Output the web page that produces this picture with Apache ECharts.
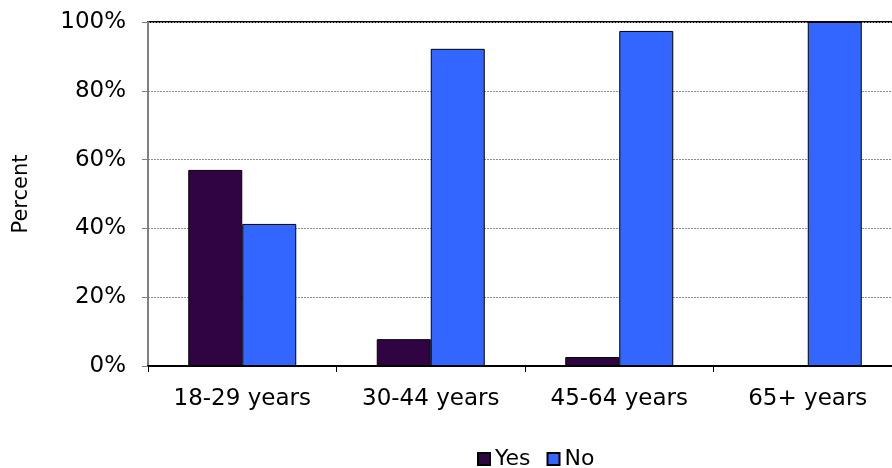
<!DOCTYPE html>
<html>
<head>
<meta charset="utf-8">
<script src="https://cdn.jsdelivr.net/npm/echarts@6/dist/echarts.min.js"></script>
<style>
  html, body { margin: 0; padding: 0; background: #fff; }
  #chart { width: 892px; height: 468px; }
</style>
</head>
<body>
<div id="chart"></div>
<script>
// Share answering Yes / No by age group (percent)
const categories = ['18-29 years', '30-44 years', '45-64 years', '65+ years'];
const yesValues = [57.0, 7.8, 2.6, 0];
const noValues = [41.3, 92.2, 97.4, 100];
const seriesNames = ['Yes', 'No'];

const font = 'Verdana, "DejaVu Sans", sans-serif';

const chart = echarts.init(document.getElementById('chart'), null, { renderer: 'canvas' });

chart.setOption({
  animation: false,
  backgroundColor: '#ffffff',
  textStyle: { fontFamily: font },
  grid: {
    left: 148,
    top: 22,
    width: 754,
    height: 344,
    outerBoundsMode: 'none',
    containLabel: false,
    show: true,
    borderColor: '#000000',
    borderWidth: 2,
    backgroundColor: 'transparent'
  },
  legend: {
    data: seriesNames,
    left: 472,
    top: 443,
    itemWidth: 12,
    itemHeight: 12,
    itemGap: 16,
    icon: 'rect',
    textStyle: { fontFamily: font, fontSize: 22, color: '#000', padding: [0, 0, 0, 0] }
  },
  xAxis: {
    type: 'category',
    data: categories,
    axisLine: { show: true, lineStyle: { color: '#000', width: 2 } },
    axisTick: { show: true, length: 6, lineStyle: { color: '#000', width: 1 } },
    axisLabel: { fontFamily: font, fontSize: 23, color: '#000', margin: 22 }
  },
  yAxis: {
    type: 'value',
    min: 0,
    max: 100,
    interval: 20,
    name: 'Percent',
    nameLocation: 'middle',
    nameGap: 116,
    nameTextStyle: { fontFamily: font, fontSize: 21, color: '#000' },
    axisLine: { show: true, lineStyle: { color: '#808080', width: 2 } },
    axisTick: { show: true, length: 6, lineStyle: { color: '#808080', width: 1 } },
    axisLabel: { fontFamily: font, fontSize: 23, color: '#000', margin: 22, formatter: '{value}%' },
    splitLine: { show: true, lineStyle: { color: '#8c8c8c', type: [2, 1], width: 1 } }
  },
  series: [
    {
      name: seriesNames[0],
      type: 'bar',
      data: yesValues,
      barWidth: 54,
      barGap: '0%',
      itemStyle: { color: '#300442', borderColor: '#000', borderWidth: 1 }
    },
    {
      name: seriesNames[1],
      type: 'bar',
      data: noValues,
      barWidth: 54,
      barGap: '0%',
      itemStyle: { color: '#3366ff', borderColor: '#000', borderWidth: 1 }
    }
  ]
});
</script>
</body>
</html>
